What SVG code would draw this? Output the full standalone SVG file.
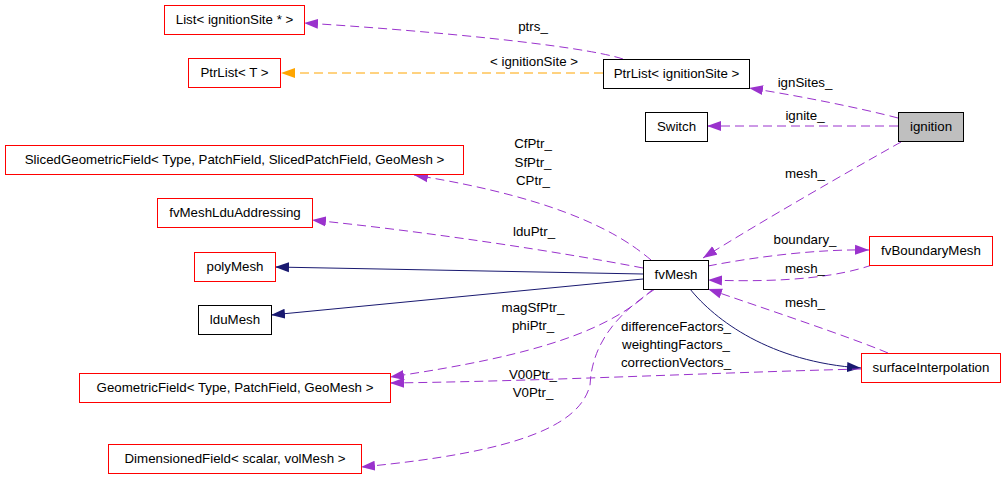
<svg xmlns="http://www.w3.org/2000/svg" width="1005" height="479" viewBox="0 0 1005 479">
<style>
text{font-family:"Liberation Sans",Arial,Helvetica,sans-serif;font-size:13.3px;fill:#000;text-anchor:middle}
.n rect{fill:#fff;stroke:#000;stroke-width:1}
.n.red rect{stroke:#ff0000}
.n.cur rect{fill:#bfbfbf}
.e path{fill:none;stroke-width:1}
.e .d{stroke:#9a32cd;stroke-dasharray:9,5}
.e .o{stroke:#ffa500;stroke-dasharray:9,5}
.e .s{stroke:#191970}
</style>
<defs>
<marker id="ap" markerUnits="userSpaceOnUse" markerWidth="15" markerHeight="11" refX="14" refY="5.5" orient="auto"><path d="M0,0.5 L14,5.5 L0,10.5 z" fill="#9a32cd"/></marker>
<marker id="ao" markerUnits="userSpaceOnUse" markerWidth="15" markerHeight="11" refX="14" refY="5.5" orient="auto"><path d="M0,0.5 L14,5.5 L0,10.5 z" fill="#ffa500"/></marker>
<marker id="as" markerUnits="userSpaceOnUse" markerWidth="15" markerHeight="11" refX="14" refY="5.5" orient="auto"><path d="M0,0.5 L14,5.5 L0,10.5 z" fill="#191970"/></marker>
</defs>
<rect width="1005" height="479" fill="#fff"/>
<g id="edges" class="e">
<path class="d" d="M898,118 C860,108 800,96 749,88" marker-end="url(#ap)"/>
<path class="d" d="M898,126 L707,126" marker-end="url(#ap)"/>
<path class="d" d="M623,59 C580,45 420,30 304,23" marker-end="url(#ap)"/>
<path class="o" d="M603,73 L281,73" marker-end="url(#ao)"/>
<path class="d" d="M901,142 C860,165 760,222 703,258" marker-end="url(#ap)"/>
<path class="d" d="M651,260 C625,238 570,200 414,175" marker-end="url(#ap)"/>
<path class="d" d="M643,268 C560,252 430,232 312,220" marker-end="url(#ap)"/>
<path class="s" d="M643,274 L275,267" marker-end="url(#as)"/>
<path class="s" d="M643,279 L271,315" marker-end="url(#as)"/>
<path class="d" d="M708,266 C760,256 820,249 869,250" marker-end="url(#ap)"/>
<path class="d" d="M872,265 C840,276 790,283 708,280" marker-end="url(#ap)"/>
<path class="d" d="M888,353 C850,337 760,307 708,289" marker-end="url(#ap)"/>
<path class="s" d="M690,289 C715,320 770,362 861,368" marker-end="url(#as)"/>
<path class="d" d="M653,289 C610,330 540,355 390,377" marker-end="url(#ap)"/>
<path class="d" d="M861,369 C700,373 550,381 390,383" marker-end="url(#ap)"/>
<path class="d" d="M655,289 C615,315 592,345 590,385 C580,425 520,452 361,467" marker-end="url(#ap)"/>
<text x="533" y="31">ptrs_</text>
<text x="534" y="66">&lt; ignitionSite &gt;</text>
<text x="805" y="87">ignSites_</text>
<text x="805" y="120">ignite_</text>
<text x="533" y="148">CfPtr_</text>
<text x="533" y="167">SfPtr_</text>
<text x="533" y="185">CPtr_</text>
<text x="805" y="178">mesh_</text>
<text x="534" y="236">lduPtr_</text>
<text x="805" y="244">boundary_</text>
<text x="805" y="273">mesh_</text>
<text x="805" y="307">mesh_</text>
<text x="533" y="312">magSfPtr_</text>
<text x="533" y="330">phiPtr_</text>
<text x="676" y="331">differenceFactors_</text>
<text x="676" y="349">weightingFactors_</text>
<text x="676" y="367">correctionVectors_</text>
<text x="533" y="379">V00Ptr_</text>
<text x="533" y="397">V0Ptr_</text>
</g>
<g id="n_list" class="n red"><rect x="164.5" y="5.5" width="140" height="29"/><text x="234.5" y="24">List&lt; ignitionSite * &gt;</text></g>
<g id="n_ptrlistT" class="n red"><rect x="188.5" y="58.5" width="92" height="29"/><text x="234.5" y="77">PtrList&lt; T &gt;</text></g>
<g id="n_ptrlistIS" class="n"><rect x="603.5" y="59.5" width="146" height="29"/><text x="676.5" y="78">PtrList&lt; ignitionSite &gt;</text></g>
<g id="n_switch" class="n"><rect x="645.5" y="112.5" width="62" height="29"/><text x="676.5" y="131">Switch</text></g>
<g id="n_ignition" class="n cur"><rect x="898.5" y="112.5" width="65" height="29"/><text x="931" y="131">ignition</text></g>
<g id="n_sliced" class="n red"><rect x="5.5" y="145.5" width="458" height="29"/><text x="234.5" y="164">SlicedGeometricField&lt; Type, PatchField, SlicedPatchField, GeoMesh &gt;</text></g>
<g id="n_lduaddr" class="n red"><rect x="157.5" y="198.5" width="155" height="29"/><text x="235" y="217">fvMeshLduAddressing</text></g>
<g id="n_polymesh" class="n red"><rect x="194.5" y="252.5" width="81" height="29"/><text x="235" y="271">polyMesh</text></g>
<g id="n_ldumesh" class="n"><rect x="198.5" y="305.5" width="73" height="29"/><text x="235" y="324">lduMesh</text></g>
<g id="n_geofield" class="n red"><rect x="79.5" y="373.5" width="311" height="29"/><text x="235" y="392">GeometricField&lt; Type, PatchField, GeoMesh &gt;</text></g>
<g id="n_dimfield" class="n red"><rect x="108.5" y="444.5" width="253" height="29"/><text x="235" y="463">DimensionedField&lt; scalar, volMesh &gt;</text></g>
<g id="n_fvmesh" class="n"><rect x="643.5" y="260.5" width="65" height="29"/><text x="676" y="279">fvMesh</text></g>
<g id="n_fvbmesh" class="n red"><rect x="869.5" y="236.5" width="123" height="29"/><text x="931" y="255">fvBoundaryMesh</text></g>
<g id="n_surfint" class="n red"><rect x="861.5" y="353.5" width="139" height="29"/><text x="931" y="372">surfaceInterpolation</text></g>
</svg>
